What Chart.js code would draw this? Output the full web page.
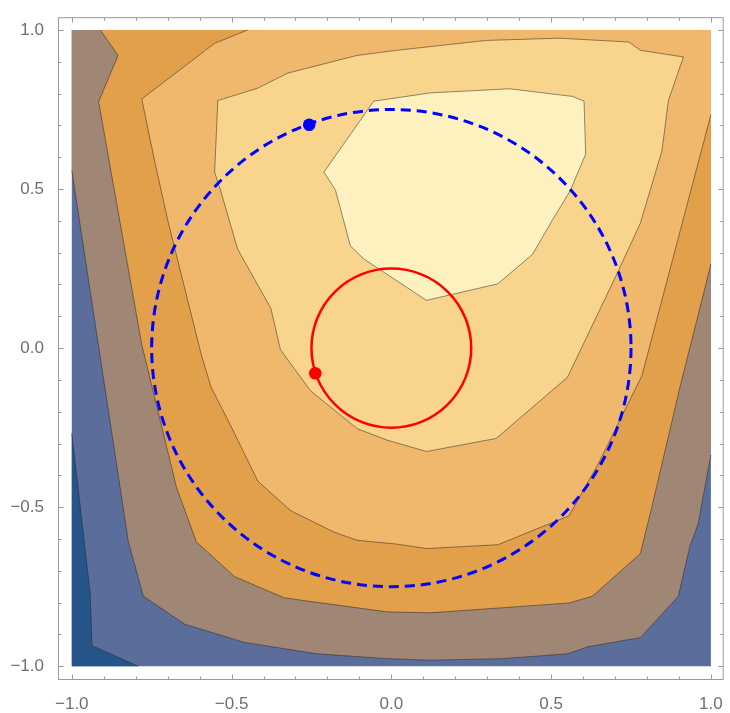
<!DOCTYPE html>
<html>
<head>
<meta charset="utf-8">
<script src="https://cdn.jsdelivr.net/npm/chart.js@4.4.0/dist/chart.umd.min.js"></script>
<style>
  html, body { margin: 0; padding: 0; background: #fff; }
  #wrap { width: 730px; height: 713px; }
</style>
</head>
<body>
<div id="wrap"><canvas id="chart" width="730" height="713"></canvas></div>
<script>
// contour edges, [x, y] in plot units
const plotDomain = [-1, 1];
const axisRange = [-1.04, 1.04];
const tickLabels = [-1, -0.5, 0, 0.5, 1];

// darkest corner (bottom left)
const darkEdge = [[-1, -0.268], [-0.942, -0.774], [-0.937, -0.935], [-0.792, -1]];
// blue / taupe
const taupeEdge = [[-1, 0.559], [-0.823, -0.609], [-0.776, -0.78], [-0.646, -0.868], [-0.46, -0.925],
  [-0.232, -0.961], [-0.014, -0.976], [0.121, -0.981], [0.349, -0.976], [0.551, -0.961], [0.618, -0.938],
  [0.779, -0.91], [0.898, -0.78], [0.935, -0.62], [0.96, -0.553], [1, -0.336]];
// taupe / orange
const orangeEdge = [[-0.911, 1], [-0.855, 0.92], [-0.916, 0.774], [-0.781, 0.011], [-0.672, -0.439],
  [-0.61, -0.609], [-0.491, -0.718], [-0.335, -0.785], [-0.014, -0.829], [0.121, -0.832], [0.349, -0.816],
  [0.556, -0.801], [0.629, -0.78], [0.779, -0.646], [0.816, -0.496], [0.903, -0.123], [1, 0.264]];
// orange / light orange
const lightEdge = [[-0.449, 1], [-0.553, 0.958], [-0.781, 0.783], [-0.74, 0.584], [-0.698, 0.395],
  [-0.595, -0.02], [-0.564, -0.123], [-0.501, -0.247], [-0.418, -0.418], [-0.315, -0.511], [-0.18, -0.578],
  [-0.107, -0.604], [0.017, -0.616], [0.11, -0.63], [0.333, -0.618], [0.556, -0.527], [0.649, -0.361],
  [0.784, -0.087], [1, 0.734]];
// light orange / lighter (closed)
const lighterLoop = [[-0.543, 0.778], [-0.418, 0.817], [-0.325, 0.864], [-0.107, 0.92], [0.017, 0.936],
  [0.297, 0.967], [0.525, 0.974], [0.743, 0.962], [0.779, 0.936], [0.914, 0.915], [0.867, 0.778],
  [0.847, 0.621], [0.779, 0.392], [0.709, 0.24], [0.551, -0.092], [0.328, -0.284], [0.11, -0.325],
  [-0.014, -0.289], [-0.107, -0.253], [-0.253, -0.134], [-0.347, -0.005], [-0.377, 0.125],
  [-0.481, 0.311], [-0.533, 0.491], [-0.553, 0.553]];
// lighter / pale (closed)
const paleLoop = [[-0.055, 0.776], [0.121, 0.802], [0.37, 0.815], [0.567, 0.791], [0.603, 0.776],
  [0.608, 0.61], [0.561, 0.497], [0.505, 0.404], [0.442, 0.295], [0.333, 0.202], [0.11, 0.15],
  [-0.086, 0.28], [-0.128, 0.321], [-0.175, 0.497], [-0.211, 0.553]];

const circleCenters = [[0, 0], [0, 0]];
const circleRadii = [0.75, 0.25];
const markerPoints = [[-0.257, 0.702], [-0.238, -0.079]];

const lo = plotDomain[0], hi = plotDomain[1];
const square = [[lo, lo], [hi, lo], [hi, hi], [lo, hi]];
const closeLoop = pts => pts.concat([pts[0]]);

// filled areas, painted bottom to top
const regions = [
  { pts: square, color: '#5b6e9b' },
  { pts: darkEdge.concat([[lo, lo]]), color: '#26558a' },
  { pts: taupeEdge.concat([[hi, hi], [lo, hi]]), color: '#a08674' },
  { pts: orangeEdge.concat([[hi, hi]]), color: '#e3a04a' },
  { pts: lightEdge.concat([[hi, hi]]), color: '#efb86c' },
  { pts: lighterLoop, color: '#f9d48c' },
  { pts: paleLoop, color: '#fef1c0' }
];
// contour lines drawn over the fills
const contourLines = [darkEdge, taupeEdge, orangeEdge, lightEdge, closeLoop(lighterLoop), closeLoop(paleLoop)];

const toXY = pts => pts.map(p => ({ x: p[0], y: p[1] }));

const datasets = regions.map((r, i) => ({
  label: 'region' + i,
  data: toXY(r.pts),
  showLine: true,
  fill: 'shape',
  backgroundColor: r.color,
  borderWidth: 0,
  borderColor: 'rgba(0,0,0,0)',
  pointRadius: 0,
  tension: 0,
  order: 100 - i
}));

contourLines.forEach((pts, i) => datasets.push({
  label: 'contour' + i,
  data: toXY(pts),
  showLine: true,
  fill: false,
  borderColor: 'rgba(35,35,35,0.5)',
  borderWidth: 1,
  pointRadius: 0,
  tension: 0,
  order: 50 - i
}));

datasets.push({
  label: 'markers',
  data: toXY(markerPoints),
  showLine: false,
  pointRadius: 6.3,
  pointBorderWidth: 0,
  pointBackgroundColor: ['#0000ff', '#ff0000'],
  order: 0
});

const circleStyles = [
  { color: '#0000ff', width: 3, dash: [10, 6] },
  { color: '#ff0000', width: 2.5, dash: [] }
];

const circlePlugin = {
  id: 'circles',
  beforeDatasetDraw(chart, args) {
    if (chart.data.datasets[args.index].label !== 'markers') return;
    const { x, y } = chart.scales;
    const c = chart.ctx;
    circleRadii.forEach((r, i) => {
      const cx = x.getPixelForValue(circleCenters[i][0]);
      const cy = y.getPixelForValue(circleCenters[i][1]);
      const rx = x.getPixelForValue(circleCenters[i][0] + r) - cx;
      const ry = cy - y.getPixelForValue(circleCenters[i][1] + r);
      c.save();
      c.beginPath();
      c.ellipse(cx, cy, rx, ry, 0, 0, Math.PI * 2);
      c.strokeStyle = circleStyles[i].color;
      c.lineWidth = circleStyles[i].width;
      c.setLineDash(circleStyles[i].dash);
      c.stroke();
      c.restore();
    });
  }
};

// Mathematica style frame, ticks pointing inward
const framePlugin = {
  id: 'frame',
  afterDraw(chart) {
    const { ctx, chartArea: a, scales: { x, y } } = chart;
    ctx.save();
    ctx.strokeStyle = '#9a9a9a';
    ctx.lineWidth = 1;
    const L = a.left - 0.5, R = a.right - 0.5, T = a.top + 0.5, B = a.bottom + 0.5;
    ctx.strokeRect(L, T, R - L, B - T);
    ctx.beginPath();
    for (let k = -10; k <= 10; k++) {
      const len = k % 5 === 0 ? 5 : 3;
      const px = Math.round(x.getPixelForValue(k / 10)) + 0.5;
      const py = Math.round(y.getPixelForValue(k / 10)) + 0.5;
      ctx.moveTo(px, B); ctx.lineTo(px, B - len);
      ctx.moveTo(px, T); ctx.lineTo(px, T + len);
      ctx.moveTo(L, py); ctx.lineTo(L + len, py);
      ctx.moveTo(R, py); ctx.lineTo(R - len, py);
    }
    ctx.stroke();
    ctx.restore();
  }
};

const fmt = v => (Math.round(v * 10) / 10).toFixed(1).replace('-', '\u2212');
const tickFont = { family: '"Liberation Sans", Arial, sans-serif', size: 17 };

new Chart(document.getElementById('chart'), {
  type: 'scatter',
  data: { datasets },
  options: {
    responsive: false,
    animation: false,
    layout: { padding: { top: 9, right: 1, left: 0, bottom: 0 } },
    plugins: { legend: { display: false }, tooltip: { enabled: false } },
    scales: {
      x: {
        type: 'linear', min: axisRange[0], max: axisRange[1],
        grid: { display: false }, border: { display: false },
        afterBuildTicks: s => { s.ticks = tickLabels.map(v => ({ value: v })); },
        afterFit: s => { s.height = 34; },
        ticks: { callback: fmt, color: '#6f6f6f', font: tickFont, padding: 7, maxRotation: 0 }
      },
      y: {
        type: 'linear', min: axisRange[0], max: axisRange[1],
        grid: { display: false }, border: { display: false },
        afterBuildTicks: s => { s.ticks = tickLabels.map(v => ({ value: v })); },
        afterFit: s => { s.width = 59; },
        ticks: { callback: fmt, color: '#6f6f6f', font: tickFont, padding: 7 }
      }
    }
  },
  plugins: [circlePlugin, framePlugin]
});
</script>
</body>
</html>
